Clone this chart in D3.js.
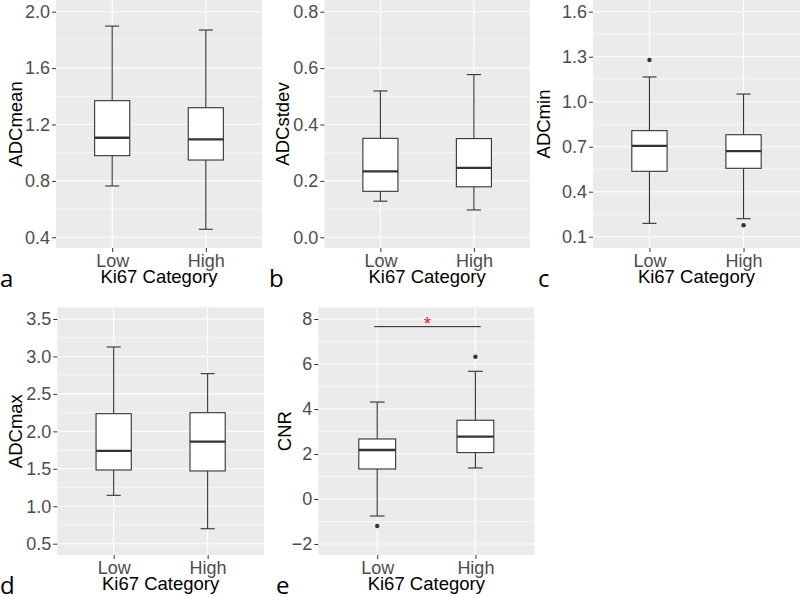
<!DOCTYPE html>
<html><head><meta charset="utf-8">
<script src="https://cdn.jsdelivr.net/npm/d3@7/dist/d3.min.js"></script>
<style>html,body{margin:0;padding:0;background:#fff;} svg{display:block;}</style>
</head><body>
<svg id="chart" width="800" height="597"></svg>
<script>
// ---------- data ----------
const categories = ["Low", "High"];
const xTitle = "Ki67 Category";
// box stats per category: [lower whisker, Q1, median, Q3, upper whisker]
const adcMeanStats  = [[0.764, 0.979, 1.106, 1.369, 1.898], [0.457, 0.948, 1.095, 1.319, 1.870]];
const adcStdevStats = [[0.128, 0.163, 0.234, 0.351, 0.519], [0.097, 0.179, 0.246, 0.350, 0.577]];
const adcMinStats   = [[0.189, 0.536, 0.705, 0.807, 1.165], [0.220, 0.556, 0.671, 0.780, 1.051]];
const adcMaxStats   = [[1.146, 1.484, 1.738, 2.236, 3.126], [0.700, 1.471, 1.862, 2.249, 2.770]];
const cnrStats      = [[-0.756, 1.333, 2.178, 2.667, 4.310], [1.378, 2.060, 2.770, 3.500, 5.676]];
// outliers: [category, value]
const adcMeanOutliers  = [];
const adcStdevOutliers = [];
const adcMinOutliers   = [["Low", 1.278], ["High", 0.176]];
const adcMaxOutliers   = [];
const cnrOutliers      = [["Low", -1.20], ["High", 6.32]];
// tick labels
const adcMeanTicks  = [0.4, 0.8, 1.2, 1.6, 2.0];
const adcStdevTicks = [0.0, 0.2, 0.4, 0.6, 0.8];
const adcMinTicks   = [0.1, 0.4, 0.7, 1.0, 1.3, 1.6];
const adcMaxTicks   = [0.5, 1.0, 1.5, 2.0, 2.5, 3.0, 3.5];
const cnrTicks      = [-2, 0, 2, 4, 6, 8];
// significance bracket (panel e)
const cnrBracketValue = 7.66;
const cnrSignif = "*";

// ---------- layout ----------
const panels = [
  {label:"a", title:"ADCmean",  stats:adcMeanStats,  out:adcMeanOutliers,  ticks:adcMeanTicks,  fmt:d3.format(".1f"),
   x0:56, x1:262, y0:0, y1:248, dom:[0.324, 2.083], titleOff:41, labX:0},
  {label:"b", title:"ADCstdev", stats:adcStdevStats, out:adcStdevOutliers, ticks:adcStdevTicks, fmt:d3.format(".1f"),
   x0:324.3, x1:530, y0:0, y1:248, dom:[-0.038, 0.8415], titleOff:42, labX:269},
  {label:"c", title:"ADCmin",   stats:adcMinStats,   out:adcMinOutliers,   ticks:adcMinTicks,   fmt:d3.format(".1f"),
   x0:593, x1:800, y0:0, y1:248, dom:[0.0247, 1.678], titleOff:50, labX:538},
  {label:"d", title:"ADCmax",   stats:adcMaxStats,   out:adcMaxOutliers,   ticks:adcMaxTicks,   fmt:d3.format(".1f"),
   x0:57.3, x1:264, y0:307.3, y1:555, dom:[0.349, 3.656], titleOff:42, labX:0},
  {label:"e", title:"CNR",      stats:cnrStats,      out:cnrOutliers,      ticks:cnrTicks,      fmt:d3.format("d"),
   x0:318.3, x1:534.3, y0:307.3, y1:555, dom:[-2.49, 8.52], titleOff:34, labX:276,
   bracket:{value:cnrBracketValue, text:cnrSignif}}
];

const svg = d3.select("#chart");
const FONT = "'Liberation Sans', Arial, sans-serif";

panels.forEach(p => {
  const g = svg.append("g");
  const x = d3.scalePoint().domain(categories).range([p.x0, p.x1]).padding(0.6);
  const y = d3.scaleLinear().domain(p.dom).range([p.y1, p.y0]);
  const step = x.step();
  const boxW = step * 0.375, capW = step * 0.15;

  g.append("rect").attr("x", p.x0).attr("y", p.y0)
    .attr("width", p.x1 - p.x0).attr("height", p.y1 - p.y0).attr("fill", "#EBEBEB");

  const minor = [];
  const tk = p.ticks, dd = tk[1] - tk[0];
  for (let i = -1; i < tk.length; i++) {
    const v = (i < 0 ? tk[0] - dd : tk[i]) + dd / 2;
    if (v > p.dom[0] && v < p.dom[1]) minor.push(v);
  }
  g.selectAll(".minor").data(minor).enter().append("line")
    .attr("x1", p.x0).attr("x2", p.x1).attr("y1", d => y(d)).attr("y2", d => y(d))
    .attr("stroke", "#fff").attr("stroke-width", 0.55);
  g.selectAll(".majY").data(p.ticks).enter().append("line")
    .attr("x1", p.x0).attr("x2", p.x1).attr("y1", d => y(d)).attr("y2", d => y(d))
    .attr("stroke", "#fff").attr("stroke-width", 1.1);
  g.selectAll(".majX").data(categories).enter().append("line")
    .attr("x1", d => x(d)).attr("x2", d => x(d)).attr("y1", p.y0).attr("y2", p.y1)
    .attr("stroke", "#fff").attr("stroke-width", 1.1);

  const yAxis = d3.axisLeft(y).tickValues(p.ticks).tickFormat(p.fmt).tickSize(4).tickPadding(2);
  const ya = g.append("g").attr("transform", `translate(${p.x0},0)`).call(yAxis);
  ya.select(".domain").remove();
  ya.selectAll(".tick line").attr("stroke", "#333").attr("stroke-width", 1);
  ya.selectAll(".tick text").attr("fill", "#4D4D4D").style("font-family", FONT).style("font-size", "18px");

  const xAxis = d3.axisBottom(x).tickSize(4).tickPadding(2);
  const xa = g.append("g").attr("transform", `translate(0,${p.y1})`).call(xAxis);
  xa.select(".domain").remove();
  xa.selectAll(".tick line").attr("stroke", "#333").attr("stroke-width", 1);
  xa.selectAll(".tick text").attr("fill", "#4D4D4D").style("font-family", FONT).style("font-size", "18px");

  categories.forEach((c, i) => {
    const s = p.stats[i], cx = x(c);
    const bg = g.append("g");
    bg.append("line").attr("x1", cx).attr("x2", cx).attr("y1", y(s[0])).attr("y2", y(s[1]))
      .attr("stroke", "#333").attr("stroke-width", 1.1);
    bg.append("line").attr("x1", cx).attr("x2", cx).attr("y1", y(s[3])).attr("y2", y(s[4]))
      .attr("stroke", "#333").attr("stroke-width", 1.1);
    [s[0], s[4]].forEach(v => bg.append("line").attr("x1", cx - capW / 2).attr("x2", cx + capW / 2)
      .attr("y1", y(v)).attr("y2", y(v)).attr("stroke", "#333").attr("stroke-width", 1.1));
    bg.append("rect").attr("x", cx - boxW / 2).attr("y", y(s[3]))
      .attr("width", boxW).attr("height", y(s[1]) - y(s[3]))
      .attr("fill", "#fff").attr("stroke", "#333").attr("stroke-width", 1.1);
    bg.append("line").attr("x1", cx - boxW / 2).attr("x2", cx + boxW / 2)
      .attr("y1", y(s[2])).attr("y2", y(s[2])).attr("stroke", "#333").attr("stroke-width", 2.3);
  });
  g.selectAll(".out").data(p.out).enter().append("circle")
    .attr("cx", d => x(d[0])).attr("cy", d => y(d[1])).attr("r", 2.2).attr("fill", "#333");

  if (p.bracket) {
    const bx0 = x(categories[0]) - step * 0.03, bx1 = x(categories[1]) + step * 0.055;
    const by = y(p.bracket.value);
    g.append("line").attr("x1", bx0).attr("x2", bx1).attr("y1", by).attr("y2", by)
      .attr("stroke", "#222").attr("stroke-width", 1);
    g.append("text").attr("x", (bx0 + bx1) / 2).attr("y", by + 3).attr("text-anchor", "middle")
      .attr("fill", "#E41A1C").style("font-family", FONT).style("font-size", "19px").text(p.bracket.text);
  }

  g.append("text").attr("x", (p.x0 + p.x1) / 2).attr("y", p.y1 + 35).attr("text-anchor", "middle")
    .attr("fill", "#000").style("font-family", FONT).style("font-size", "18.5px").text(xTitle);
  g.append("text").attr("transform", `translate(${p.x0 - p.titleOff},${(p.y0 + p.y1) / 2}) rotate(-90)`)
    .attr("text-anchor", "middle").attr("dominant-baseline", "central")
    .attr("fill", "#000").style("font-family", FONT).style("font-size", "18.5px").text(p.title);
  g.append("text").attr("x", p.labX).attr("y", p.y1 + 39)
    .attr("fill", "#000").style("font-family", "'Open Sans', sans-serif").style("font-size", "24px").text(p.label);
});
</script>
</body></html>
